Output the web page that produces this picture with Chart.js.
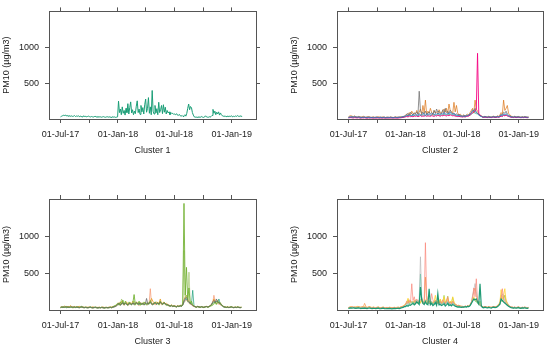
<!DOCTYPE html>
<html>
<head>
<meta charset="utf-8">
<script src="https://cdn.jsdelivr.net/npm/chart.js@4.4.0/dist/chart.umd.min.js"></script>
<style>
  html, body { margin: 0; padding: 0; background: #fff; }
  #wrap { position: relative; width: 550px; height: 348px; }
  .panel { position: absolute; width: 275px; height: 174px; }
  .panel canvas { display: block; }
</style>
</head>
<body>
<div id="wrap">
  <div class="panel" style="left:0;top:0"><canvas id="c1" width="275" height="174"></canvas></div>
  <div class="panel" style="left:275px;top:0"><canvas id="c2" width="275" height="174"></canvas></div>
  <div class="panel" style="left:0;top:174px"><canvas id="c3" width="275" height="174"></canvas></div>
  <div class="panel" style="left:275px;top:174px"><canvas id="c4" width="275" height="174"></canvas></div>
</div>
<script>
// x axis = days since 01-Jul-17
const tickDays = [0, 92, 184, 274, 365, 457, 549];
const tickLabels = ["01-Jul-17", "", "01-Jan-18", "", "01-Jul-18", "", "01-Jan-19"];
const yTicks = [500, 1000];

// cluster 1: one value every 3 days
const c1Green = [
  30,38,45,52,48,55,44,50,40,46,42,
  38,44,36,40,48,35,42,38,45,33,40,36,30,38,42,34,37,31,36,40,
  33,29,35,31,27,33,38,30,28,34,26,31,29,25,30,33,27,24,29,32,26,30,28,23,27,31,25,29,22,26,30,
  250,90,140,60,170,80,120,55,150,90,215,70,160,240,85,130,60,110,75,180,
  255,90,140,65,190,100,160,70,200,280,95,150,300,80,170,60,400,110,70,190,
  85,145,60,235,90,130,190,75,200,95,165,70,120,85,100,60,90,75,80,65,70,
  60,75,55,50,65,45,40,50,35,45,60,40,80,
  150,210,130,175,160,90,55,
  30,25,28,22,26,30,24,27,35,25,22,28,45,30,26,24,32,27,35,50,
  135,80,110,60,95,70,100,55,85,60,45,
  40,35,45,30,38,42,33,40,36,45,30,38,34,42,36,48,40,35,44,38,42
];

// clusters 2-4: one value every 4 days
const c2Blue = [
  20,25,30,28,22,35,26,24,30,22,18,24,20,26,22,19,25,21,18,23,20,17,22,25,19,21,24,18,20,23,17,21,19,22,25,20,18,22,24,19,21,26,22,28,30,35,
  40,55,45,60,50,48,65,55,70,60,52,75,60,58,80,65,55,70,62,75,58,68,80,60,72,65,85,70,62,78,68,90,75,65,85,72,95,80,68,75,60,55,50,48,45,40,
  38,42,36,45,50,55,70,85,
  110,120,105,95,80,60,45,38,
  30,27,32,28,25,30,27,24,29,32,26,28,33,30,38,
  55,48,70,60,75,58,45,38,
  30,28,25,32,24,27,29,25,22,27,24,28,26,23,25
];
const c2Magenta = [
  15,18,20,16,14,19,17,15,18,14,13,16,15,17,14,12,15,13,16,14,12,15,13,14,16,12,14,13,15,12,14,13,15,12,14,16,13,15,12,14,13,15,17,19,22,25,
  30,35,28,40,33,38,30,42,36,45,32,40,48,35,42,38,50,36,44,40,38,46,42,35,48,40,52,45,38,50,44,55,48,42,52,46,58,50,44,48,40,36,34,38,32,30,
  28,32,30,35,38,42,55,70,
  90,100,110,140,922,80,55,40,
  25,22,26,23,20,24,22,19,23,26,21,22,27,24,30,
  40,35,50,45,55,42,35,30,
  24,22,20,25,19,22,23,20,18,21,19,22,20,18,20
];
const c2Gray = [
  25,30,28,35,32,27,30,25,28,33,26,24,30,28,22,27,25,30,24,21,26,23,28,25,20,24,27,22,25,28,21,24,26,22,25,23,20,24,27,22,25,28,24,30,35,40,
  50,65,80,55,95,70,60,85,75,100,65,390,120,80,95,70,110,60,85,100,75,90,65,120,80,140,95,110,70,85,130,75,150,90,110,80,125,95,70,85,60,75,55,65,50,45,
  40,50,45,55,48,60,75,90,
  130,110,150,95,80,60,50,40,
  32,28,35,30,26,33,29,25,31,34,28,30,36,32,40,
  70,55,95,80,110,70,55,45,
  33,30,28,35,26,30,32,27,24,29,26,31,28,25,27
];
const c2Orange = [
  30,42,48,38,35,44,30,28,36,33,25,30,38,27,24,30,35,28,22,26,30,24,21,28,33,26,22,25,30,23,20,27,24,22,29,25,21,26,30,24,28,22,35,26,30,38,
  55,70,45,90,60,110,75,85,65,120,70,95,140,60,190,85,265,70,110,80,150,95,60,120,85,100,70,130,90,75,110,140,95,150,80,210,120,95,85,234,100,190,85,55,70,50,
  45,60,40,55,70,50,90,120,
  150,85,265,140,110,70,55,45,
  35,30,40,28,33,38,27,30,35,40,32,28,45,38,55,
  90,70,265,120,150,190,80,60,
  40,35,30,38,28,33,36,30,25,32,28,35,30,26,30
];
const c2Green = [
  18,22,25,20,24,28,21,19,23,20,17,21,19,22,18,16,20,17,19,18,16,19,17,20,18,15,18,16,19,17,15,18,16,19,17,15,18,16,20,17,19,22,20,24,26,30,
  35,42,38,50,45,40,55,48,52,45,40,60,50,48,58,52,45,55,50,60,48,55,62,50,58,52,65,55,50,60,56,70,60,55,65,58,72,62,55,60,50,45,42,40,38,35,
  32,36,30,38,42,46,55,65,
  80,90,85,75,70,55,42,35,
  26,23,28,25,22,26,24,21,25,28,23,24,29,26,32,
  45,40,55,50,60,48,40,34,
  26,24,22,27,21,24,25,22,20,23,21,24,22,20,22
];

const c3Gray = [
  38,42,36,40,45,38,42,36,40,44,38,42,36,40,38,34,40,44,36,33,38,34,31,36,40,33,30,35,38,32,30,34,31,36,33,29,32,35,31,34,38,33,40,45,50,60,
  80,90,70,85,100,75,95,80,70,90,85,75,95,80,90,100,85,85,95,80,90,75,85,157,80,95,105,85,75,90,100,80,95,85,110,90,80,100,85,75,70,60,55,60,50,55,
  50,45,55,48,58,52,70,120,
  160,170,130,110,90,75,60,50,
  45,40,48,42,38,45,40,36,44,48,42,46,58,75,110,
  130,100,150,110,95,90,70,55,
  42,40,36,40,34,38,42,36,33,38,35,40,36,33,36
];
const c3Green = [
  35,40,45,38,42,48,36,40,44,38,35,42,38,45,40,36,42,50,38,35,40,36,33,38,42,35,32,37,40,34,31,36,33,38,35,30,34,37,32,36,40,35,45,55,60,80,
  95,70,110,80,135,75,120,85,70,110,90,80,100,210,75,100,85,120,70,95,80,110,90,75,100,85,130,90,80,95,110,85,100,75,120,90,80,105,85,70,75,60,55,65,50,55,
  50,45,55,48,60,52,90,1450,
  200,580,140,300,90,120,70,55,
  45,40,50,42,38,46,40,36,44,48,40,45,55,60,70,
  90,110,80,120,95,100,70,60,
  45,40,38,42,36,40,44,38,35,40,37,42,38,35,38
];
const c3LightGreen = [
  30,35,40,33,38,42,32,36,40,34,30,37,34,40,36,32,38,44,34,31,36,32,30,34,38,31,29,33,36,30,28,32,30,34,31,27,30,33,29,32,36,31,40,48,52,65,
  80,60,95,150,85,65,100,75,60,90,80,70,85,120,65,90,75,100,60,85,70,95,80,65,90,75,110,80,70,85,95,75,90,65,105,80,70,95,75,60,65,55,50,58,45,50,
  45,40,50,44,55,48,70,810,
  150,200,110,515,80,95,60,50,
  40,36,45,38,34,42,36,32,40,44,36,40,50,55,62,
  80,95,70,105,85,90,62,52,
  40,36,34,38,32,36,40,34,31,36,33,38,34,31,34
];
const c3Teal = [
  32,36,34,38,35,32,36,34,38,35,32,36,33,37,34,30,35,39,33,30,34,31,29,33,36,30,28,32,35,29,27,31,29,33,30,27,30,32,28,31,34,30,36,42,48,58,
  75,85,65,80,95,70,90,75,65,85,80,70,90,75,85,95,80,70,90,75,85,70,80,95,75,90,100,80,70,85,95,75,90,80,105,85,75,95,80,70,65,58,52,58,48,52,
  48,42,52,46,55,50,65,110,
  140,150,120,100,90,80,268,60,
  42,38,46,40,36,43,38,34,42,46,40,44,55,70,95,
  110,95,120,100,150,85,65,52,
  40,37,34,38,32,36,40,34,31,36,33,38,34,31,34
];
const c3Orange = [
  40,45,38,55,48,42,50,44,60,46,40,48,42,38,45,50,40,36,42,38,35,40,37,42,34,38,44,36,32,38,35,40,33,37,42,34,38,32,36,40,38,42,46,50,58,70,
  85,100,70,120,90,80,95,110,75,90,100,85,120,80,95,110,90,75,100,85,95,80,100,90,85,100,110,157,120,95,85,110,100,90,150,85,95,110,80,90,75,65,60,70,55,60,
  55,50,60,52,65,58,80,140,
  180,200,150,120,95,80,65,55,
  48,42,50,45,40,48,42,38,46,50,44,48,60,80,100,
  150,110,120,130,95,100,75,60,
  45,42,38,44,36,40,45,38,35,40,36,42,38,35,40
];
const c3Salmon = [
  30,35,32,38,34,30,36,33,40,35,30,34,32,36,33,29,34,38,31,29,33,30,28,32,35,29,27,31,34,28,26,30,28,32,29,26,29,31,27,30,33,29,35,40,45,55,
  70,85,60,95,75,65,80,90,60,75,85,70,95,65,80,90,70,60,85,75,80,65,90,75,70,85,290,70,95,80,70,90,85,75,100,70,80,95,70,75,60,55,50,55,45,50,
  45,40,50,44,52,48,65,100,
  120,140,110,90,80,70,55,48,
  40,36,44,38,34,42,36,32,40,44,38,42,55,70,90,
  200,120,100,85,80,70,60,50,
  40,36,33,38,31,35,39,33,30,35,32,37,33,30,34
];

const c4Teal = [
  20,25,28,24,30,26,22,25,28,24,20,24,22,26,23,20,24,27,22,19,23,20,18,22,25,19,17,21,24,18,17,20,18,22,19,16,19,21,18,20,23,19,25,30,35,45,
  45,60,50,70,65,80,90,70,85,110,95,75,313,140,90,75,110,80,70,290,70,90,60,75,100,65,223,70,75,60,70,85,55,70,90,60,70,55,75,65,50,45,40,42,38,35,
  40,38,45,40,50,45,60,90,
  120,150,140,150,110,80,357,60,
  35,30,38,32,28,35,30,26,34,38,32,36,45,60,80,
  150,130,110,95,80,65,50,40,
  32,30,26,30,24,28,32,26,23,28,25,30,26,23,26
];
const c4Mint = [
  25,30,28,33,31,26,30,28,33,30,26,31,28,30,27,24,30,33,26,23,28,24,22,26,30,23,21,25,28,22,21,24,22,26,23,20,23,25,22,24,28,23,30,35,40,48,
  55,75,65,85,80,95,110,85,100,130,120,95,490,160,110,95,130,130,100,85,95,110,80,90,120,80,90,75,95,80,85,100,70,90,110,75,85,65,95,80,60,52,48,50,42,40,
  42,40,46,42,52,46,60,85,
  130,140,120,110,95,75,58,45,
  38,34,40,36,32,38,34,30,37,40,35,38,46,58,75,
  140,120,100,90,75,62,50,42,
  35,32,29,33,27,31,35,29,26,31,28,33,29,26,29
];
const c4Salmon = [
  35,40,38,45,42,36,40,38,44,40,36,42,38,40,37,34,40,44,36,33,38,34,32,36,40,33,30,35,38,32,30,34,31,36,33,29,32,35,31,34,38,33,40,45,50,60,
  80,120,95,140,110,357,130,180,90,150,120,100,140,160,85,110,916,200,120,120,90,223,140,100,130,95,110,85,120,90,140,100,85,120,180,95,110,80,120,90,75,70,60,65,55,50,
  50,45,55,48,60,52,70,110,
  150,300,180,425,120,90,70,55,
  45,40,48,42,38,45,40,36,44,48,42,46,55,70,90,
  120,290,150,110,85,70,60,50,
  42,40,36,40,34,38,42,36,33,38,35,40,36,33,36
];
const c4LightGray = [
  30,35,33,38,36,31,35,33,38,35,31,36,33,35,32,29,35,38,31,28,33,29,27,31,35,28,26,30,33,27,26,29,27,31,28,25,28,30,27,29,33,28,35,40,44,52,
  70,90,80,100,95,120,110,90,130,100,110,150,724,180,120,100,130,95,110,85,100,120,90,80,110,85,95,75,100,80,90,110,85,95,120,80,90,70,100,85,70,60,55,58,50,48,
  45,42,50,45,55,50,65,100,
  200,280,360,250,150,100,75,55,
  42,38,45,40,36,42,38,34,42,45,40,44,52,65,80,
  150,220,180,130,100,80,65,50,
  40,37,34,38,32,36,40,34,31,36,33,38,34,31,34
];
const c4Yellow = [
  32,38,45,40,36,42,38,50,44,40,36,42,38,44,40,35,42,46,38,34,40,36,33,38,42,35,32,37,40,34,32,36,33,38,35,31,34,37,33,36,40,35,42,48,55,65,
  85,110,160,95,130,100,120,90,140,110,100,130,95,150,120,100,140,110,90,130,100,120,95,110,200,90,120,100,150,95,110,180,100,130,160,95,120,100,180,110,80,70,60,65,55,52,
  48,44,52,47,58,52,68,100,
  150,180,140,120,100,85,65,52,
  44,40,48,42,38,45,40,36,44,48,42,46,60,80,100,
  277,150,200,290,120,90,65,50,
  40,38,34,38,32,36,40,34,31,36,33,38,34,31,34
];
const c4LightGreen = [
  28,33,36,31,35,30,34,32,37,33,29,34,31,35,32,28,33,37,30,27,32,28,26,30,34,27,25,29,32,26,25,28,26,30,27,24,27,29,26,28,32,27,34,40,45,55,
  75,95,140,85,120,95,110,85,130,100,90,120,90,140,110,95,130,100,85,120,95,110,90,100,130,85,110,95,140,90,100,200,95,120,190,90,110,95,170,100,75,65,55,60,50,48,
  45,42,50,45,55,50,65,95,
  140,160,130,110,95,80,120,50,
  40,36,44,38,34,42,36,32,40,44,38,42,52,68,90,
  130,110,150,200,100,85,60,48,
  37,35,31,35,29,33,37,31,28,33,30,35,31,28,31
];
const c4Orange = [
  30,36,42,38,34,40,36,38,44,40,36,42,45,90,50,32,38,42,35,31,36,33,30,34,38,31,29,33,36,30,29,33,30,34,31,28,31,33,29,32,36,31,38,44,50,60,
  75,100,85,120,95,110,100,130,85,110,95,120,100,130,110,95,447,100,85,115,90,105,85,100,125,80,95,85,110,80,95,115,85,100,130,80,100,85,115,90,70,62,55,58,50,47,
  45,42,50,45,56,50,66,105,
  180,250,300,200,130,95,70,50,
  42,38,46,40,36,43,38,34,42,46,40,44,55,72,95,
  200,180,160,200,130,100,62,48,
  38,36,32,36,30,34,38,32,29,34,31,36,32,29,32
];

const textColor = "#222";
const axisColor = "#555";
const labelFont = { family: "'Liberation Sans', Arial, sans-serif", size: 9 };

function toPoints(values, step) {
  return values.map((v, i) => ({ x: i * step, y: v }));
}

function edgeAxis(position, size, extra) {
  const horizontal = position === "top" || position === "bottom";
  return Object.assign({
    type: "linear",
    position: position,
    min: horizontal ? -37 : 0,
    max: horizontal ? 627 : 1510,
    afterBuildTicks: (scale) => {
      scale.ticks = (horizontal ? tickDays : yTicks).map((v) => ({ value: v }));
    },
    afterFit: (scale) => {
      if (horizontal) scale.height = size;
      else scale.width = size;
    },
    grid: {
      drawOnChartArea: false,
      drawTicks: true,
      tickLength: 4,
      color: axisColor,
      lineWidth: 1,
    },
    border: { display: true, color: axisColor, width: 1 },
    ticks: {
      autoSkip: false,
      maxRotation: 0,
      padding: 6,
      color: textColor,
      font: labelFont,
      callback: () => "",
    },
  }, extra || {});
}

function makePanel(canvasId, clusterName, series, step, frame) {
  new Chart(document.getElementById(canvasId), {
    type: "line",
    data: {
      datasets: series.map((s) => ({
        data: toPoints(s.values, step),
        borderColor: s.color,
        borderWidth: s.width || 1,
        pointRadius: 0,
        tension: 0,
        fill: false,
      })),
    },
    options: {
      responsive: false,
      animation: false,
      devicePixelRatio: 1,
      layout: { padding: 0 },
      plugins: { legend: { display: false }, tooltip: { enabled: false } },
      scales: {
        x: edgeAxis("bottom", frame.bottom, {
          ticks: {
            autoSkip: false,
            maxRotation: 0,
            padding: 6,
            color: textColor,
            font: labelFont,
            callback: (value) => tickLabels[tickDays.indexOf(value)] || "",
          },
          title: {
            display: true,
            text: clusterName,
            color: textColor,
            font: labelFont,
            padding: { top: 0, bottom: frame.titleBottom },
          },
        }),
        x2: edgeAxis("top", frame.top),
        y: edgeAxis("left", frame.left, {
          ticks: {
            padding: 6,
            color: textColor,
            font: labelFont,
            callback: (value) => String(value),
          },
          title: {
            display: true,
            text: "PM10 (µg/m3)",
            color: textColor,
            font: labelFont,
            padding: { top: frame.yTitle, bottom: 0 },
          },
        }),
        y2: edgeAxis("right", frame.right),
      },
    },
  });
}

const topFrameLeft = { left: 49, right: 19, top: 7, bottom: 55, titleBottom: 18, yTitle: 1 };
const topFrameRight = { left: 62, right: 7, top: 7, bottom: 55, titleBottom: 18, yTitle: 14.5 };
const lowFrameLeft = { left: 49, right: 19, top: 25, bottom: 38, titleBottom: 1, yTitle: 1 };
const lowFrameRight = { left: 62, right: 7, top: 25, bottom: 38, titleBottom: 1, yTitle: 14.5 };

makePanel("c1", "Cluster 1", [
  { values: c1Green, color: "#1b9e77" },
], 3, topFrameLeft);

makePanel("c2", "Cluster 2", [
  { values: c2Blue, color: "rgba(40,120,200,0.8)" },
  { values: c2Magenta, color: "rgba(245,0,130,0.9)" },
  { values: c2Gray, color: "rgba(110,110,110,0.75)" },
  { values: c2Orange, color: "rgba(220,115,20,0.7)" },
  { values: c2Green, color: "rgba(27,158,119,0.7)" },
], 4, topFrameRight);

makePanel("c3", "Cluster 3", [
  { values: c3Gray, color: "rgba(100,100,100,0.75)" },
  { values: c3Green, color: "rgba(110,175,45,0.85)" },
  { values: c3LightGreen, color: "rgba(150,190,90,0.6)" },
  { values: c3Teal, color: "rgba(27,158,119,0.7)" },
  { values: c3Orange, color: "rgba(230,150,20,0.75)" },
  { values: c3Salmon, color: "rgba(245,150,110,0.7)" },
], 4, lowFrameLeft);

makePanel("c4", "Cluster 4", [
  { values: c4Teal, color: "rgba(20,150,110,0.95)", width: 1.2 },
  { values: c4Mint, color: "rgba(102,194,165,0.6)" },
  { values: c4Salmon, color: "rgba(250,128,114,0.65)" },
  { values: c4LightGray, color: "rgba(185,185,185,0.7)" },
  { values: c4Yellow, color: "rgba(255,210,40,0.75)" },
  { values: c4LightGreen, color: "rgba(166,216,84,0.75)" },
  { values: c4Orange, color: "rgba(245,140,60,0.65)" },
], 4, lowFrameRight);
</script>
</body>
</html>
